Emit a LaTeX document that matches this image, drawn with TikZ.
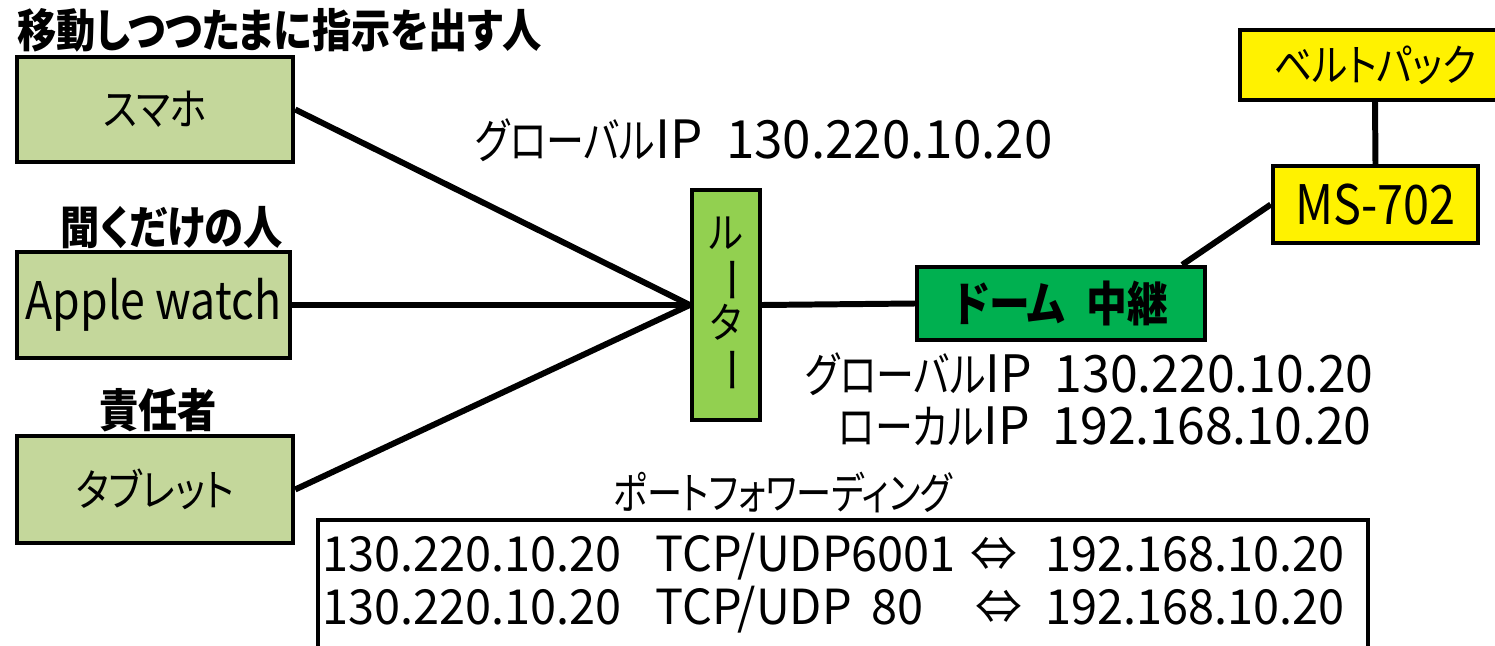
\documentclass[tikz,border=0pt]{standalone}
\usepackage{fontspec}
\usepackage{graphicx}
\setmainfont{Noto Sans CJK JP}[RawFeature=+palt,FakeStretch=0.86]
\newfontfamily\jpn{Noto Sans CJK JP}[RawFeature=+palt,FakeStretch=0.8]
\newfontfamily\wide{Noto Sans CJK JP}[RawFeature=+palt,FakeStretch=0.97]
\definecolor{olivebox}{HTML}{C4D79B}
\definecolor{routergreen}{HTML}{92D050}
\definecolor{domegreen}{HTML}{00B050}
\newcommand{\vbar}{\rotatebox[origin=c]{-90}{\scalebox{1.3}[1]{ー}}}
\newcommand{\kn}[1]{{\fontsize{27}{30}\selectfont\jpn #1}}
\begin{document}
\begin{tikzpicture}[x=0.2mm,y=-0.2mm,
        devbox/.style={draw,line width=2.5pt,inner sep=0pt},
        wire/.style={line width=3.4pt},
        hdr/.style={font=\bfseries\fontsize{26}{30}\selectfont},
        lbl/.style={font=\fontsize{31}{36}\selectfont},
        kana/.style={font=\fontsize{25}{30}\selectfont},
        iplbl/.style={font=\wide\fontsize{29.3}{32}\selectfont,inner sep=0pt}]
    \useasboundingbox (0,0) rectangle (1495,646);

    \node[hdr,anchor=west] (hdrmove) at (11,30) {移動しつつたまに指示を出す人};
    \node[hdr] (hdrlisten) at (172,228) {聞くだけの人};
    \node[hdr] (hdrboss) at (158,410) {責任者};

    \node[devbox,kana,fill=olivebox,minimum width=55.2mm,minimum height=21mm] (phone) at (155,109.5) {スマホ};
    \node[devbox,font=\fontsize{29.5}{34}\selectfont,fill=olivebox,minimum width=54.6mm,minimum height=21.2mm] (watch) at (153.5,305) {Apple watch};
    \node[devbox,kana,fill=olivebox,minimum width=55.2mm,minimum height=21.4mm] (tablet) at (155,489.5) {タブレット};

    \node[devbox,font=\fontsize{24}{23}\selectfont,fill=routergreen,minimum width=13.6mm,minimum height=46mm,align=center] (router) at (726,305) {ル\\\vbar\\タ\\\vbar};
    \node[devbox,font=\bfseries\fontsize{27}{32}\selectfont,fill=domegreen,minimum width=57.6mm,minimum height=14.6mm] (dome) at (1061,303.5) {ドーム\hspace{0.45em}中継};
    \node[devbox,lbl,fill=yellow,minimum width=41mm,minimum height=15.4mm] (ms) at (1375.5,204.5) {MS-702};
    \node[devbox,kana,fill=yellow,minimum width=54mm,minimum height=14mm] (belt) at (1375,65) {ベルトパック};

    \draw[wire] (phone.east) -- (router.west);
    \draw[wire] (watch.east) -- (router.west);
    \draw[wire] (tablet.east) -- (router.west);
    \draw[wire] (router.east) -- (dome.west);
    \draw[wire] ([xshift=-5mm]dome.north east) -- (ms.west);
    \draw[wire] (belt.south) -- (ms.north);

    \node[iplbl,font=\wide\fontsize{30}{34}\selectfont] (wanip) at (764,140) {\kn{グローバル}IP\hspace{0.45em}130.220.10.20};
    \node[iplbl,anchor=east] (domewan) at (1374,374) {\kn{グローバル}IP\hspace{0.45em}130.220.10.20};
    \node[iplbl,anchor=east] (domelan) at (1372,426) {\kn{ローカル}IP\hspace{0.45em}192.168.10.20};
    \node[font=\fontsize{25}{30}\selectfont\jpn] (pfwd) at (783,492) {ポートフォワーディング};

    \draw[line width=2.5pt] (318,670) -- (318,520) -- (1368,520) -- (1368,670);
    \node[font=\wide\fontsize{27.5}{27}\selectfont,anchor=west,inner sep=0pt] (pfwdtab) at (322,586) {\begin{tabular}{@{}p{66.6mm}@{}p{61mm}@{}p{17mm}@{}l@{}}
        130.220.10.20 & TCP/UDP6001 & \hspace*{2mm}⇔ & 192.168.10.20\\
        130.220.10.20 & TCP/UDP\hspace{4mm}80 & \hspace*{3mm}⇔ & 192.168.10.20
    \end{tabular}};
\end{tikzpicture}
\end{document}
